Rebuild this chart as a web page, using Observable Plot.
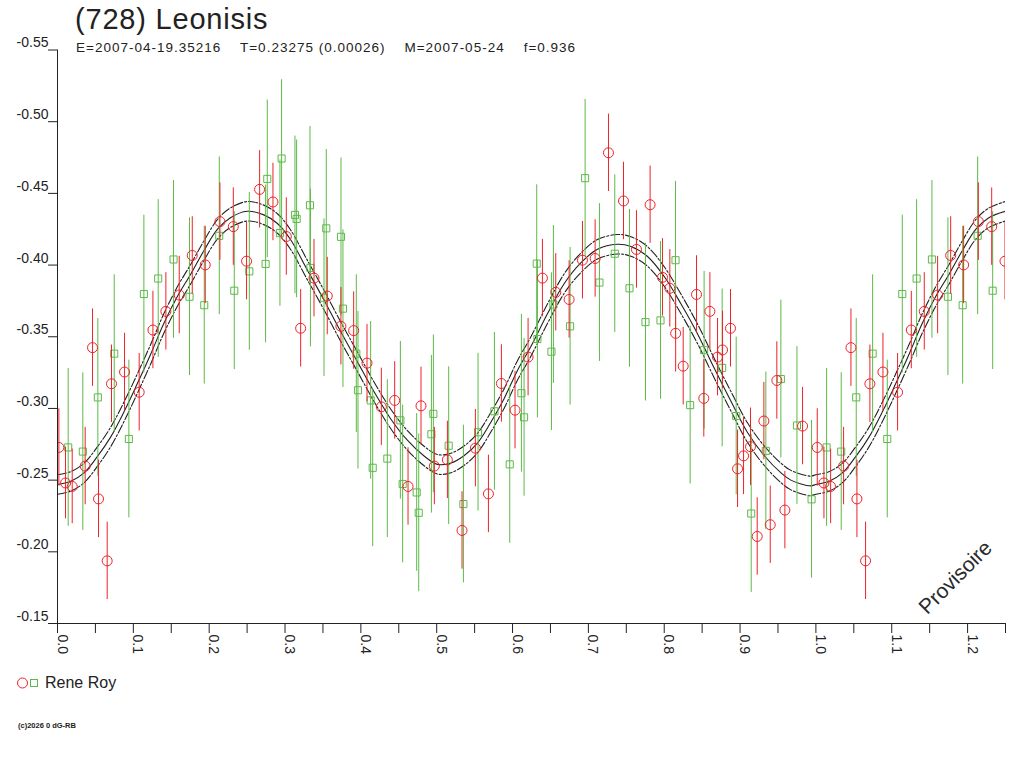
<!DOCTYPE html>
<html><head><meta charset="utf-8">
<script src="https://cdn.jsdelivr.net/npm/d3@7"></script>
<script src="https://cdn.jsdelivr.net/npm/@observablehq/plot@0.6"></script>
<style>
body{margin:0;background:#fff;font-family:"Liberation Sans",Arial,sans-serif;}
#wrap{position:relative;width:1024px;height:768px;overflow:hidden;background:#fff;}
#wrap > svg{position:absolute;left:0;top:0;}
.t{position:absolute;white-space:pre;color:#222;line-height:1;}
</style></head><body><div id="wrap"></div>
<script>
// ---- data ----
const title = "(728) Leonisis";
const subtitle = "E=2007-04-19.35216    T=0.23275 (0.00026)    M=2007-05-24    f=0.936";
const observer = "Rene Roy";
const footer = "(c)2026 0 dG-RB";
const stamp = "Provisoire";

const redPhase = [0.0018,0.0106,0.0194,0.0365,0.0462,0.0541,0.0655,0.0712,0.0884,0.1077,0.1258,0.1429,0.1605,0.1777,0.1948,0.2142,0.2318,0.2493,0.2665,0.2841,0.3017,
  0.3206,0.3382,0.3557,0.3737,0.3905,0.4081,0.4270,0.4446,0.4622,0.4793,0.4969,0.5141,0.5334,0.5510,0.5682,0.5853,0.6033,0.6205,
  0.6394,0.6570,0.6746,0.6922,0.7089,0.7265,0.7463,0.7634,0.7814,0.7977,0.8074,0.8151,0.8250,0.8426,0.8522,0.8602,0.8703,0.8769,0.8874,0.8967,0.9046,0.9138,0.9226,0.9314,0.9398,
  0.9485,0.9591,0.9824];
const redMag = [-0.2728,-0.2480,-0.2456,-0.2598,-0.3424,-0.2369,-0.1937,-0.3172,-0.3254,-0.3113,-0.3547,-0.3677,-0.3791,-0.4067,-0.4001,-0.4303,-0.4268,-0.4027,-0.4528,-0.4440,-0.4199,
  -0.3559,-0.3909,-0.3784,-0.3573,-0.3543,-0.3316,-0.3011,-0.3056,-0.2456,-0.3018,-0.2598,-0.2641,-0.2149,-0.2723,-0.2404,-0.3174,-0.2988,-0.3358,
  -0.3909,-0.3810,-0.3760,-0.4034,-0.4046,-0.4783,-0.4447,-0.4109,-0.4421,-0.3914,-0.3838,-0.3524,-0.3295,-0.3795,-0.3070,-0.3677,-0.3358,-0.3408,-0.3559,-0.2579,-0.2669,-0.2733,-0.2107,-0.2912,-0.2189,
  -0.3195,-0.2291,-0.2877];
const redErr = [0.027,0.025,0.026,0.027,0.027,0.027,0.027,0.027,0.027,0.027,0.027,0.027,0.027,0.027,0.027,0.027,0.027,0.027,0.027,0.027,0.027,
  0.027,0.027,0.027,0.027,0.027,0.027,0.027,0.027,0.027,0.027,0.027,0.027,0.027,0.027,0.027,0.027,0.027,0.027,
  0.027,0.027,0.027,0.027,0.027,0.027,0.027,0.027,0.027,0.027,0.027,0.027,0.027,0.027,0.027,0.027,0.027,0.027,0.027,0.027,0.027,0.027,0.027,0.027,0.027,
  0.027,0.027,0.027];

const greenPhase = [0.0141,0.0334,0.0532,0.0748,0.0941,0.1139,0.1328,0.1530,0.1741,0.1935,0.2133,0.2331,0.2529,0.2744,0.2766,0.2933,0.2955,0.3131,0.3153,
  0.3329,0.3335,0.3514,0.3544,0.3738,0.3764,0.3940,0.3962,0.4129,0.4156,0.4349,0.4521,0.4551,0.4736,0.4763,0.4930,0.4956,0.5158,0.5352,0.5545,0.5761,0.5963,0.6117,0.6152,0.6319,0.6328,
  0.6513,0.6539,0.6759,0.6957,0.7146,0.7348,0.7542,0.7753,0.7951,0.8149,0.8342,0.8526,0.8764,0.8949,0.9147,0.9340,
  0.9538,0.9750,0.9943];
const greenMag = [-0.2728,-0.2699,-0.3077,-0.3382,-0.2787,-0.3798,-0.3906,-0.4039,-0.3779,-0.3720,-0.4204,-0.3821,-0.3956,-0.4008,-0.4601,-0.4223,-0.4743,-0.4350,-0.4322,
  -0.4417,-0.3980,-0.3772,-0.4256,-0.4197,-0.3696,-0.3382,-0.3127,-0.3056,-0.2586,-0.2650,-0.2917,-0.2473,-0.2414,-0.2272,-0.2820,-0.2962,-0.2740,-0.2333,-0.2834,-0.2980,-0.2610,-0.3106,-0.2938,-0.4010,-0.3484,
  -0.3396,-0.3725,-0.3573,-0.4606,-0.3878,-0.4079,-0.3838,-0.3602,-0.3614,-0.4034,-0.3023,-0.3406,-0.3283,-0.2947,-0.2267,-0.2704,
  -0.3205,-0.2881,-0.2366];
const greenErr = [0.055,0.055,0.055,0.055,0.055,0.055,0.055,0.055,0.055,0.055,0.055,0.055,0.055,0.055,0.055,0.051,0.055,0.055,0.055,
  0.055,0.055,0.055,0.055,0.055,0.055,0.055,0.055,0.055,0.055,0.055,0.055,0.055,0.055,0.055,0.055,0.055,0.055,0.055,0.055,0.055,0.055,0.055,0.055,0.055,0.055,
  0.055,0.055,0.055,0.055,0.055,0.055,0.055,0.055,0.055,0.055,0.055,0.055,0.055,0.055,0.055,0.055,
  0.055,0.055,0.055];

// fitted curve (phase 0..1)
const curvePhase = [0.000,0.017,0.035,0.052,0.070,0.088,0.105,0.123,0.140,0.158,0.176,0.193,0.211,0.228,0.250,0.272,0.290,0.307,0.329,0.351,0.373,0.395,0.417,0.439,0.461,0.483,0.501,0.519,0.536,0.554,0.571,0.589,0.606,0.624,0.646,0.668,0.690,0.712,0.738,0.756,0.778,0.800,0.822,0.844,0.866,0.888,0.910,0.932,0.954,0.967,0.993];
const curveMag = [-0.247,-0.249,-0.255,-0.266,-0.280,-0.298,-0.317,-0.338,-0.359,-0.378,-0.394,-0.410,-0.425,-0.433,-0.4375,-0.435,-0.429,-0.418,-0.397,-0.376,-0.354,-0.333,-0.312,-0.293,-0.278,-0.267,-0.261,-0.262,-0.267,-0.276,-0.290,-0.307,-0.326,-0.343,-0.366,-0.387,-0.4015,-0.411,-0.4145,-0.413,-0.406,-0.392,-0.373,-0.352,-0.328,-0.305,-0.283,-0.267,-0.255,-0.250,-0.246];
const bandHalfWidth = 0.0068;

const yTicks = [-0.55,-0.50,-0.45,-0.40,-0.35,-0.30,-0.25,-0.20,-0.15];
const xTicks = [0,0.05,0.1,0.15,0.2,0.25,0.3,0.35,0.4,0.45,0.5,0.55,0.6,0.65,0.7,0.75,0.8,0.85,0.9,0.95,1.0,1.05,1.1,1.15,1.2,1.25];
const xLabels = [0,0.1,0.2,0.3,0.4,0.5,0.6,0.7,0.8,0.9,1.0,1.1,1.2];
const phaseMax = 1.25;

const RED = "#ee2228", GREEN = "#5cba47", INK = "#222";

// ---- build tables (phases below 0.25 are shown again after 1.0, as in the original) ----
function points(ph, mg, er) {
  const out = [];
  ph.forEach((p, i) => {
    out.push({phase: p, mag: mg[i], err: er[i]});
    if (p + 1 <= phaseMax) out.push({phase: p + 1, mag: mg[i], err: er[i]});
  });
  return out.sort((a, b) => a.phase - b.phase);
}
const redPts = points(redPhase, redMag, redErr);
const greenPts = points(greenPhase, greenMag, greenErr);
const curve = [];
curvePhase.forEach((p, i) => curve.push({phase: p, mag: curveMag[i]}));
curvePhase.forEach((p, i) => { if (p + 1 <= phaseMax + 0.02) curve.push({phase: p + 1, mag: curveMag[i]}); });
curve.sort((a, b) => a.phase - b.phase);

const lineOpts = {x: "phase", curve: "catmull-rom", stroke: INK, strokeWidth: 1.1};

const chart = Plot.plot({
  width: 1024, height: 768,
  marginTop: 49.5, marginBottom: 145, marginLeft: 57, marginRight: 19,
  x: {domain: [0, phaseMax]},
  y: {domain: [-0.15, -0.55]},
  clip: true,
  style: {fontFamily: '"Liberation Sans", Arial, sans-serif', fontSize: "14px", color: INK, background: "transparent", overflow: "visible"},
  marks: [
    Plot.line(curve, {...lineOpts, y: d => d.mag - bandHalfWidth, strokeDasharray: "9,2,2,2"}),
    Plot.line(curve, {...lineOpts, y: d => d.mag + bandHalfWidth, strokeDasharray: "9,2,2,2"}),
    Plot.line(curve, {...lineOpts, y: "mag"}),
    Plot.ruleX(greenPts, {x: "phase", y1: d => d.mag - d.err, y2: d => d.mag + d.err, stroke: GREEN, strokeWidth: 1}),
    Plot.dot(greenPts, {x: "phase", y: "mag", symbol: "square", r: 4, stroke: GREEN, fill: "white", fillOpacity: 0, strokeWidth: 1}),
    Plot.ruleX(redPts, {x: "phase", y1: d => d.mag - d.err, y2: d => d.mag + d.err, stroke: RED, strokeWidth: 1}),
    Plot.dot(redPts, {x: "phase", y: "mag", r: 5, stroke: RED, fill: "none", strokeWidth: 1}),
    Plot.ruleX([0], {stroke: INK, clip: false}),
    Plot.ruleY([-0.15], {stroke: INK, clip: false}),
    Plot.axisY({ticks: yTicks, tickSize: 9, fill: "none", stroke: INK, label: null, clip: false}),
    Plot.axisY({ticks: yTicks, tickSize: 0, tickPadding: 9, dy: -7, tickFormat: d => d.toFixed(2), fill: INK, fontSize: 14, label: null, clip: false}),
    Plot.axisX({ticks: xTicks, tickSize: 10, fill: "none", stroke: INK, label: null, clip: false}),
    Plot.text(xLabels, {x: d => d, text: d => d.toFixed(1), frameAnchor: "bottom", dy: 11, rotate: 90, textAnchor: "start", lineAnchor: "bottom", fontSize: 14, fill: INK, clip: false})
  ]
});

const wrap = document.getElementById("wrap");
wrap.appendChild(chart);

function addText(txt, css) {
  const d = document.createElement("div");
  d.className = "t";
  d.textContent = txt;
  d.style.cssText += css;
  wrap.appendChild(d);
  return d;
}
addText(title, "left:75px;top:5px;font-size:29px;letter-spacing:0.8px;");
addText(subtitle, "left:76px;top:41px;font-size:13.5px;letter-spacing:1px;");
addText(stamp, "left:955px;top:577px;font-size:21px;color:#2a2a2a;transform:translate(-50%,-50%) rotate(-45deg);");
addText(observer, "left:45px;top:675px;font-size:16px;");
addText(footer, "left:18px;top:722px;font-size:7.5px;font-weight:bold;");

// legend symbols
const ns = "http://www.w3.org/2000/svg";
const lg = document.createElementNS(ns, "svg");
lg.setAttribute("width", "44"); lg.setAttribute("height", "20");
lg.style.cssText = "position:absolute;left:10px;top:673px;";
const c = document.createElementNS(ns, "circle");
c.setAttribute("cx", "12.5"); c.setAttribute("cy", "10"); c.setAttribute("r", "5");
c.setAttribute("fill", "none"); c.setAttribute("stroke", RED);
const s = document.createElementNS(ns, "rect");
s.setAttribute("x", "20.5"); s.setAttribute("y", "6.5"); s.setAttribute("width", "7"); s.setAttribute("height", "7");
s.setAttribute("fill", "none"); s.setAttribute("stroke", GREEN);
lg.appendChild(c); lg.appendChild(s);
wrap.appendChild(lg);
</script></body></html>
